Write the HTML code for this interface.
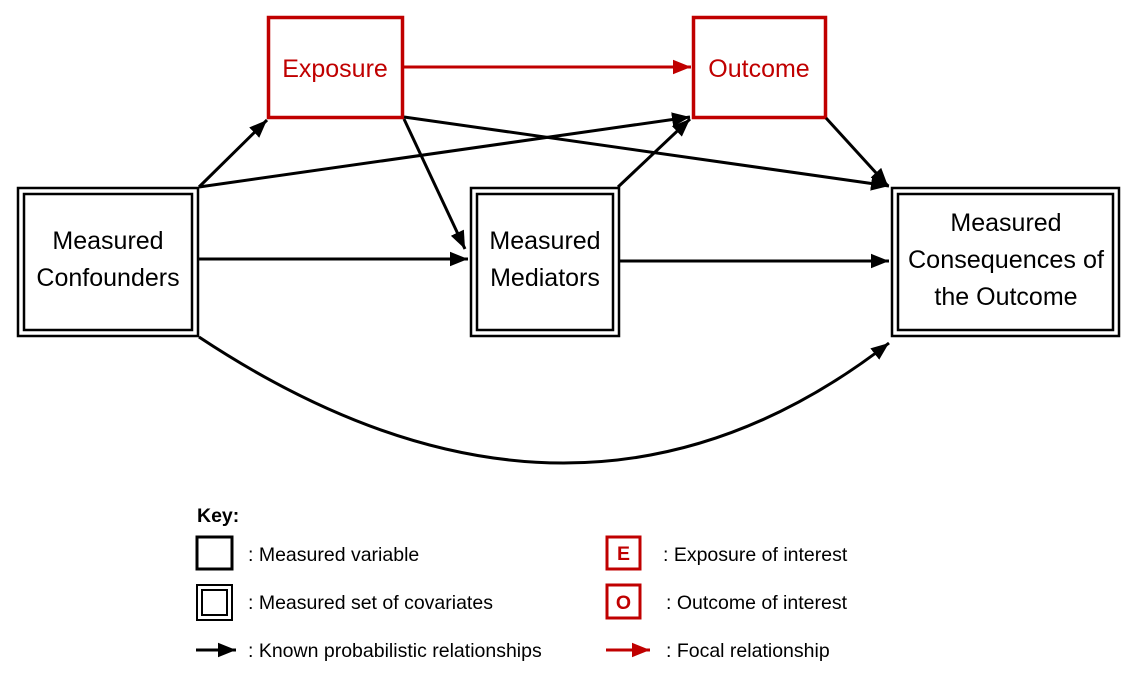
<!DOCTYPE html>
<html><head><style>
body{margin:0;background:#fff;}
svg text{font-family:"Liberation Sans",sans-serif;}
</style></head><body>
<svg width="1138" height="676" viewBox="0 0 1138 676" xmlns="http://www.w3.org/2000/svg">
<defs>
<marker id="ab" viewBox="0 0 10 10" refX="10" refY="5" markerWidth="6" markerHeight="6" orient="auto" markerUnits="strokeWidth"><path d="M0,1 L10,5 L0,9 z" fill="#000"/></marker>
<marker id="ar" viewBox="0 0 10 10" refX="10" refY="5" markerWidth="6" markerHeight="6" orient="auto" markerUnits="strokeWidth"><path d="M0,1 L10,5 L0,9 z" fill="#c00000"/></marker>
</defs>
<g fill="none" stroke-width="3">
<rect x="268.5" y="17.5" width="134" height="100" stroke="#c00000" stroke-width="3.5"/>
<rect x="693.5" y="17.5" width="132" height="100" stroke="#c00000" stroke-width="3.5"/>
<rect x="18" y="188" width="180" height="148" stroke="#000" stroke-width="2.5"/>
<rect x="24" y="194" width="168" height="136" stroke="#000" stroke-width="2.5"/>
<rect x="471" y="188" width="148" height="148" stroke="#000" stroke-width="2.5"/>
<rect x="477" y="194" width="136" height="136" stroke="#000" stroke-width="2.5"/>
<rect x="892" y="188" width="227" height="148" stroke="#000" stroke-width="2.5"/>
<rect x="898" y="194" width="215" height="136" stroke="#000" stroke-width="2.5"/>
<g stroke="#000">
<line x1="199" y1="187" x2="267" y2="120" marker-end="url(#ab)"/>
<line x1="199" y1="187" x2="690" y2="117" marker-end="url(#ab)"/>
<line x1="404" y1="117" x2="889" y2="186" marker-end="url(#ab)"/>
<line x1="404" y1="119" x2="465" y2="249" marker-end="url(#ab)"/>
<line x1="199" y1="259" x2="468" y2="259" marker-end="url(#ab)"/>
<line x1="618" y1="187" x2="690" y2="119" marker-end="url(#ab)"/>
<line x1="620" y1="261" x2="889" y2="261" marker-end="url(#ab)"/>
<line x1="826" y1="118" x2="888" y2="186" marker-end="url(#ab)"/>
<path d="M199,337 Q575,586 889,343" marker-end="url(#ab)"/>
<line x1="196" y1="650" x2="236" y2="650" marker-end="url(#ab)"/>
</g>
<line x1="404" y1="67" x2="691" y2="67" stroke="#c00000" marker-end="url(#ar)"/>
<line x1="606" y1="650" x2="650" y2="650" stroke="#c00000" marker-end="url(#ar)"/>
<rect x="197" y="537" width="35" height="32" stroke="#000" stroke-width="3"/>
<rect x="197" y="585" width="35" height="35" stroke="#000" stroke-width="2"/>
<rect x="202" y="590" width="25" height="25" stroke="#000" stroke-width="2"/>
<rect x="607" y="537" width="33" height="32" stroke="#c00000" stroke-width="3"/>
<rect x="607" y="585" width="33" height="33" stroke="#c00000" stroke-width="3"/>
</g>
<g font-size="25" text-anchor="middle">
<text x="335" y="77" fill="#c00000">Exposure</text>
<text x="759" y="77" fill="#c00000">Outcome</text>
<text x="108" y="249">Measured</text>
<text x="108" y="286">Confounders</text>
<text x="545" y="249">Measured</text>
<text x="545" y="286">Mediators</text>
<text x="1006" y="231">Measured</text>
<text x="1006" y="268" textLength="196" lengthAdjust="spacingAndGlyphs">Consequences of</text>
<text x="1006" y="305">the Outcome</text>
</g>
<g font-size="19.5">
<text x="197" y="522" font-weight="bold">Key:</text>
<text x="248" y="561">: Measured variable</text>
<text x="248" y="609">: Measured set of covariates</text>
<text x="248" y="657">: Known probabilistic relationships</text>
<text x="663" y="561">: Exposure of interest</text>
<text x="666" y="609">: Outcome of interest</text>
<text x="666" y="657">: Focal relationship</text>
<text x="623.5" y="560" fill="#c00000" font-weight="bold" text-anchor="middle">E</text>
<text x="623.5" y="609" fill="#c00000" font-weight="bold" text-anchor="middle">O</text>
</g>
</svg>
</body></html>
